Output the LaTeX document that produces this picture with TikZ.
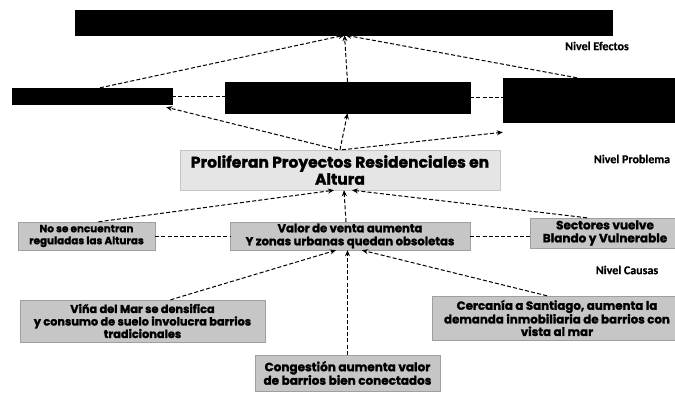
\documentclass[tikz,border=0pt]{standalone}
\usepackage{fontspec}
\setmainfont{Poppins}[BoldFeatures={FakeBold=1.6}]
\newfontfamily\lblfont{Carlito}[BoldFeatures={FakeBold=0.6}]
\usetikzlibrary{arrows.meta,calc}
\tikzset{
  effbox/.style={draw=black,fill=black,inner sep=0pt},
  causebox/.style={draw=gray!75,fill=gray!45,inner sep=0pt,align=center,font=\bfseries},
  probbox/.style={draw=gray!45,fill=gray!20,inner sep=0pt,align=center,font=\bfseries\fontsize{15.5}{17}\selectfont},
  conn/.style={dashed,dash pattern=on 4pt off 2.2pt,line width=1pt,black},
  arr/.style={conn,-{Stealth[length=6pt,width=5pt]}},
  lvl/.style={font=\lblfont\bfseries\fontsize{12}{14}\selectfont,inner sep=0pt}
}
\begin{document}
\begin{tikzpicture}[x=1pt,y=-1pt]
\useasboundingbox (0,0) rectangle (675,392);
\clip (0,0) rectangle (675,392);
% effects level
\node[effbox,minimum width=537pt,minimum height=25pt] (top) at (343.5,22.5) {};
\node[effbox,minimum width=160pt,minimum height=16pt] (eL) at (92,96) {};
\node[effbox,minimum width=245pt,minimum height=31pt] (eM) at (347.5,97.5) {};
\node[effbox,minimum width=172pt,minimum height=44pt] (eR) at (589,100) {};
% problem
\node[probbox,minimum width=320pt,minimum height=40pt] (prob) at (340,170) {Proliferan Proyectos Residenciales en\\Altura};
% causes 1
\node[causebox,minimum width=137pt,minimum height=28pt,font=\bfseries\fontsize{10.4}{12}\selectfont] (cL) at (86.5,236) {No se encuentran\\reguladas las Alturas};
\node[causebox,minimum width=240pt,minimum height=28pt,font=\bfseries\fontsize{11.6}{13}\selectfont] (cM) at (350,236) {Valor de venta aumenta\\Y zonas urbanas quedan obsoletas};
\node[causebox,minimum width=150pt,minimum height=30pt,font=\bfseries\fontsize{12}{13}\selectfont] (cR) at (605,233) {Sectores vuelve\\Blando y Vulnerable};
% causes 2
\node[causebox,minimum width=245pt,minimum height=42pt,font=\bfseries\fontsize{11.3}{12.5}\selectfont] (bL) at (142.5,321) {Viña del Mar se densifica\\y consumo de suelo involucra barrios\\tradicionales};
\node[causebox,minimum width=185pt,minimum height=36pt,font=\bfseries\fontsize{12}{13.5}\selectfont] (bM) at (347.5,373) {Congestión aumenta valor\\de barrios bien conectados};
\node[causebox,minimum width=250pt,minimum height=44pt,font=\bfseries\fontsize{11.8}{12.5}\selectfont] (bR) at (557,318) {Cercanía a Santiago, aumenta la\\demanda inmobiliaria de barrios con\\vista al mar};
% level labels
\node[lvl] (lE) at (597,46) {Nivel Efectos};
\node[lvl] (lP) at (632,159) {Nivel Problema};
\node[lvl] (lC) at (627,270) {Nivel Causas};
% connectors effects
\draw[arr] ([xshift=8pt]eL.north) -- ([xshift=1pt]top.south);
\draw[arr] (eM.north) -- ([xshift=1pt]top.south);
\draw[arr] ([xshift=-12pt]eR.north) -- ([xshift=2pt]top.south);
\draw[conn] (eL.east) -- (eL.east -| eM.west);
\draw[conn] (eM.east) -- (eM.east -| eR.west);
% problem to effects
\draw[arr] (prob.north) -- (eM.south);
\draw[arr] ([xshift=-2pt]prob.north) -- ([xshift=-6pt,yshift=-3pt]eL.south east);
\draw[arr] ([xshift=2pt]prob.north) -- ([yshift=-10pt]eR.south west);
% causes to problem
\draw[arr] ([xshift=12pt]cL.north) -- ([xshift=-6pt]prob.south);
\draw[arr] ([xshift=-4pt]cM.north) -- ([xshift=4pt]prob.south);
\draw[arr] ([xshift=-18pt]cR.north) -- ([xshift=12pt]prob.south);
\draw[conn] (cL.east) -- (cL.east -| cM.west);
\draw[conn] (cM.east) -- (cM.east -| cR.west);
% causes 2 to cause 1
\draw[arr] ([xshift=28pt]bL.north) -- ([xshift=-14pt]cM.south);
\draw[arr] (bM.north) -- (bM.north |- cM.south);
\draw[arr] ([xshift=-10pt]bR.north) -- ([xshift=12pt]cM.south);
\end{tikzpicture}
\end{document}
